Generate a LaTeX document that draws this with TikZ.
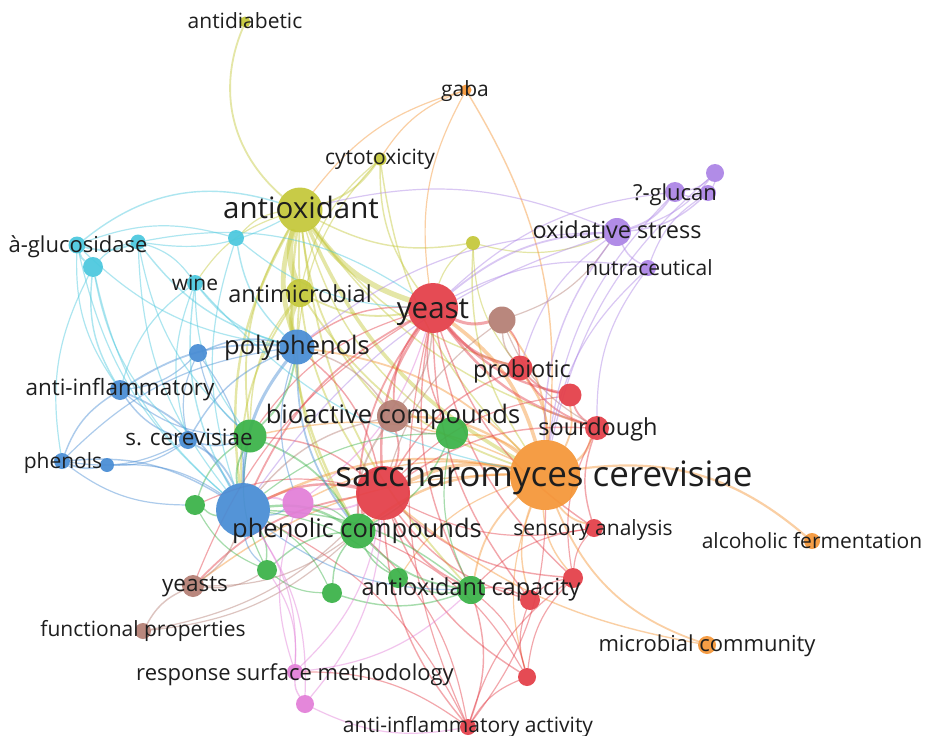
\documentclass[tikz,border=0pt]{standalone}
\usepackage{fontspec}
\setmainfont{Open Sans}

\pgfdeclarelayer{bg}
\pgfdeclarelayer{links}
\pgfdeclarelayer{labels}
\pgfsetlayers{bg,links,main,labels}

\definecolor{cOlive}{RGB}{196,200,58}
\definecolor{cRed}{RGB}{228,62,72}
\definecolor{cOrange}{RGB}{245,150,55}
\definecolor{cCyan}{RGB}{75,200,222}
\definecolor{cBlue}{RGB}{72,140,212}
\definecolor{cGreen}{RGB}{58,178,72}
\definecolor{cPurple}{RGB}{172,132,230}
\definecolor{cBrown}{RGB}{180,126,116}
\definecolor{cPink}{RGB}{226,126,216}
\definecolor{ink}{RGB}{30,30,30}

\tikzset{
  dot/.style={circle, inner sep=0pt, draw=none, fill opacity=0.93},
  link/.style={line cap=round, draw opacity=0.45},
  lbl/.style={text=ink, inner sep=0pt, anchor=base},
  lbS/.style={lbl, font=\fontsize{21}{21}\selectfont},
  lbM/.style={lbl, font=\fontsize{23.5}{24}\selectfont},
  lbN/.style={lbl, font=\fontsize{25.5}{26}\selectfont},
  lbL/.style={lbl, font=\fontsize{29.5}{30}\selectfont},
  lbX/.style={lbl, font=\fontsize{35}{35}\selectfont},
}

% keyword circle: name, x, y, colour, diameter
\newcommand\kw[5]{\node[dot, fill=#4, minimum size=#5pt] (#1) at (#2,#3) {};}

\begin{document}
\begin{tikzpicture}[x=1pt,y=-1pt]
\begin{pgfonlayer}{bg}
  \fill[white] (0,0) rectangle (930,736);
\end{pgfonlayer}
\useasboundingbox (0,0) rectangle (930,736);

% ---------- keywords ----------
% olive cluster
\kw{antidiabetic}{245}{22}{cOlive}{11}
\kw{cytotox}{380}{159}{cOlive}{13}
\kw{antiox}{300}{210}{cOlive}{45}
\kw{olivesmall}{473}{243}{cOlive}{14}
\kw{antimicro}{300}{293}{cOlive}{28}
% cyan cluster
\kw{cyanA}{77}{245}{cCyan}{17}
\kw{cyanB}{138}{242}{cCyan}{15}
\kw{cyanC}{93}{267}{cCyan}{20}
\kw{cyanD}{236}{238}{cCyan}{16}
\kw{wine}{195}{283}{cCyan}{16}
% blue cluster
\kw{polyph}{297}{347}{cBlue}{35}
\kw{blueS}{198}{353}{cBlue}{18}
\kw{antiinfl}{120}{390}{cBlue}{20}
\kw{scerev}{188}{440}{cBlue}{18}
\kw{phenolsA}{62}{461}{cBlue}{16}
\kw{phenolsB}{107}{465}{cBlue}{14}
\kw{phenolic}{243}{510}{cBlue}{54}
% red cluster
\kw{yeast}{433}{308}{cRed}{50}
\kw{probiotic}{520}{368}{cRed}{25}
\kw{redA}{570}{395}{cRed}{23}
\kw{sourdough}{597}{428}{cRed}{24}
\kw{sacchRed}{383}{493}{cRed}{54}
\kw{sensory}{594}{528}{cRed}{18}
\kw{redB}{573}{578}{cRed}{20}
\kw{redC}{530}{600}{cRed}{20}
\kw{redD}{527}{677}{cRed}{18}
\kw{antiinflAct}{468}{727}{cRed}{16}
% brown cluster
\kw{brownA}{502}{320}{cBrown}{27}
\kw{bioactive}{393}{416}{cBrown}{32}
\kw{yeasts}{193}{586}{cBrown}{22}
\kw{functional}{143}{631}{cBrown}{16}
% green cluster
\kw{greenA}{452}{433}{cGreen}{32}
\kw{greenS}{250}{436}{cGreen}{33}
\kw{greenB}{195}{505}{cGreen}{20}
\kw{greenPC}{358}{531}{cGreen}{35}
\kw{greenC}{267}{570}{cGreen}{20}
\kw{greenD}{332}{593}{cGreen}{20}
\kw{greenE}{398}{578}{cGreen}{20}
\kw{antioxCap}{471}{590}{cGreen}{28}
% pink cluster
\kw{pinkA}{298}{503}{cPink}{31}
\kw{rsm}{295}{672}{cPink}{16}
\kw{pinkB}{305}{704}{cPink}{18}
% orange cluster
\kw{sacch}{545}{475}{cOrange}{70}
\kw{gaba}{466}{90}{cOrange}{11}
\kw{alcoholic}{812}{541}{cOrange}{16}
\kw{microbial}{707}{645}{cOrange}{18}
% purple cluster
\kw{purpleA}{715}{173}{cPurple}{18}
\kw{glucanA}{675}{192}{cPurple}{20}
\kw{glucanB}{708}{193}{cPurple}{16}
\kw{oxstress}{617}{232}{cPurple}{28}
\kw{nutra}{648}{268}{cPurple}{16}

% ---------- co-occurrence links ----------
\begin{pgfonlayer}{links}
\foreach \a/\b/\c/\w in {
  antiox/antimicro/cOlive/5, antiox/polyph/cOlive/4, antimicro/polyph/cOlive/4,
  antiox/yeast/cOlive/4.5, antiox/sacch/cOlive/3, antiox/phenolic/cOlive/2,
  antiox/greenPC/cOlive/2, antiox/bioactive/cOlive/1.5, antiox/cytotox/cOlive/1.5,
  antiox/olivesmall/cOlive/1.2, antiox/greenS/cOlive/1.5, antiox/greenA/cOlive/1.2,
  antiox/probiotic/cOlive/1.2, antiox/sourdough/cOlive/1.2, antiox/antioxCap/cOlive/1.5,
  antiox/wine/cOlive/1, antiox/cyanD/cOlive/1, antiox/sacchRed/cOlive/1.5,
  antimicro/sacch/cOlive/1.5, antimicro/yeast/cOlive/1.5, antimicro/phenolic/cOlive/1.5,
  antimicro/greenPC/cOlive/1.5, antimicro/greenS/cOlive/1.2, cytotox/yeast/cOlive/1.2,
  cytotox/sacch/cOlive/1.2, cytotox/antimicro/cOlive/1, cytotox/polyph/cOlive/1,
  olivesmall/yeast/cOlive/1, olivesmall/sacch/cOlive/1.2, olivesmall/probiotic/cOlive/1,
  olivesmall/oxstress/cOlive/1,
  sacch/yeast/cOrange/3, sacch/sacchRed/cOrange/3, sacch/gaba/cOrange/1.2,
  sacch/probiotic/cOrange/2, sacch/sourdough/cOrange/2, sacch/sensory/cOrange/1.5,
  sacch/redB/cOrange/1.2, sacch/redC/cOrange/1.2, sacch/antioxCap/cOrange/1.5,
  sacch/greenPC/cOrange/2, sacch/bioactive/cOrange/2, sacch/phenolic/cOrange/2,
  sacch/polyph/cOrange/1.5, sacch/greenA/cOrange/1.5, sacch/brownA/cOrange/1.5,
  sacch/redA/cOrange/1.5, sacch/greenS/cOrange/1.2, sacch/yeasts/cOrange/1.2,
  sacch/greenE/cOrange/1, sacch/pinkA/cOrange/1.2, sacch/redD/cOrange/1,
  gaba/yeast/cOrange/1, gaba/antiox/cOrange/1, gaba/cytotox/cOrange/1,
  yeast/probiotic/cRed/2.5, yeast/redA/cRed/2, yeast/sourdough/cRed/2,
  yeast/brownA/cRed/2.5, yeast/sacchRed/cRed/2, yeast/sensory/cRed/1.2,
  yeast/redB/cRed/1.2, yeast/redC/cRed/1.2, yeast/polyph/cRed/1.2,
  yeast/phenolic/cRed/1.5, yeast/greenPC/cRed/1.5, yeast/bioactive/cRed/1.5,
  yeast/greenA/cRed/1.2, yeast/antiinflAct/cRed/1, yeast/yeasts/cRed/1,
  yeast/greenS/cRed/1, yeast/antioxCap/cRed/1.2, probiotic/redA/cRed/1.5,
  probiotic/sourdough/cRed/1.5, probiotic/sacchRed/cRed/1.2, probiotic/brownA/cRed/1.2,
  redA/sourdough/cRed/1.5, redA/sacchRed/cRed/1, sourdough/sensory/cRed/1.2,
  sourdough/sacchRed/cRed/1.2, sourdough/redB/cRed/1, sacchRed/phenolic/cRed/2,
  sacchRed/greenPC/cRed/2, sacchRed/bioactive/cRed/1.5, sacchRed/antioxCap/cRed/1.5,
  sacchRed/redB/cRed/1.2, sacchRed/redC/cRed/1.2, sacchRed/redD/cRed/1.2,
  sacchRed/antiinflAct/cRed/1.2, sacchRed/yeasts/cRed/1.5, sacchRed/greenS/cRed/1.2,
  sacchRed/greenB/cRed/1, sacchRed/polyph/cRed/1.2, sacchRed/sensory/cRed/1,
  sensory/redB/cRed/1, sensory/antioxCap/cRed/1, redB/redC/cRed/1,
  redB/redD/cRed/1, redB/antiinflAct/cRed/1, redC/antioxCap/cRed/1.2,
  redC/redD/cRed/1, redD/antioxCap/cRed/1, redD/antiinflAct/cRed/1,
  redD/greenPC/cRed/1, antiinflAct/antioxCap/cRed/1.2, antiinflAct/greenPC/cRed/1,
  antiinflAct/phenolic/cRed/1, antiinflAct/rsm/cRed/1, antiinflAct/sacch/cRed/1,
  brownA/probiotic/cBrown/1.2, brownA/oxstress/cBrown/1, brownA/sourdough/cBrown/1,
  brownA/sacchRed/cBrown/1, bioactive/greenPC/cBrown/1.5, bioactive/greenA/cBrown/1.2,
  bioactive/phenolic/cBrown/1.2, bioactive/yeast/cBrown/1.2, bioactive/polyph/cBrown/1.2,
  yeasts/functional/cBrown/1.2, yeasts/phenolic/cBrown/1.2, yeasts/greenC/cBrown/1,
  yeasts/greenPC/cBrown/1, functional/sacchRed/cBrown/1, functional/greenPC/cBrown/1,
  greenPC/antioxCap/cGreen/1.5, greenPC/greenD/cGreen/1.2, greenPC/greenE/cGreen/1.2,
  greenPC/greenC/cGreen/1.2, greenPC/phenolic/cGreen/2, greenPC/greenS/cGreen/1.5,
  greenPC/greenA/cGreen/1.2, greenPC/pinkA/cGreen/1, greenS/greenB/cGreen/1.2,
  greenS/phenolic/cGreen/1.5, greenS/polyph/cGreen/1.5, greenS/greenC/cGreen/1,
  greenB/phenolic/cGreen/1.2, greenB/greenC/cGreen/1, greenC/greenD/cGreen/1,
  greenC/phenolic/cGreen/1.2, greenD/antioxCap/cGreen/1.2, greenD/phenolic/cGreen/1,
  greenE/antioxCap/cGreen/1.2, greenE/phenolic/cGreen/1, greenA/antioxCap/cGreen/1,
  greenA/phenolic/cGreen/1, antioxCap/phenolic/cGreen/1.2,
  polyph/phenolic/cBlue/2.5, polyph/antiinfl/cBlue/1.5, polyph/blueS/cBlue/1.2,
  polyph/scerev/cBlue/1.2, polyph/phenolsA/cBlue/1, polyph/greenPC/cBlue/1.5,
  polyph/pinkA/cBlue/1, phenolic/antiinfl/cBlue/1.5, phenolic/scerev/cBlue/1.5,
  phenolic/phenolsA/cBlue/1.2, phenolic/phenolsB/cBlue/1, phenolic/blueS/cBlue/1,
  phenolic/pinkA/cBlue/1.2, phenolic/greenC/cBlue/1, phenolic/antioxCap/cBlue/1,
  antiinfl/scerev/cBlue/1.2, antiinfl/phenolsA/cBlue/1.2, antiinfl/blueS/cBlue/1,
  antiinfl/greenS/cBlue/1, phenolsA/phenolsB/cBlue/1.5, phenolsA/scerev/cBlue/1,
  phenolsB/scerev/cBlue/1, phenolsA/greenB/cBlue/1, blueS/scerev/cBlue/1,
  blueS/greenS/cBlue/1, scerev/greenS/cBlue/1.2,
  cyanA/cyanB/cCyan/1.5, cyanA/cyanC/cCyan/1.5, cyanB/cyanC/cCyan/1,
  cyanA/polyph/cCyan/1, cyanA/phenolic/cCyan/1, cyanA/antiinfl/cCyan/1,
  cyanB/polyph/cCyan/1.2, cyanB/phenolic/cCyan/1, cyanB/antiox/cCyan/1,
  cyanB/greenS/cCyan/1, cyanC/antiinfl/cCyan/1.2, cyanC/phenolsA/cCyan/1,
  cyanC/phenolic/cCyan/1, cyanC/scerev/cCyan/1, cyanD/polyph/cCyan/1.2,
  cyanD/phenolic/cCyan/1, cyanD/yeast/cCyan/1, cyanD/cyanA/cCyan/1,
  wine/polyph/cCyan/1.2, wine/phenolic/cCyan/1.2, wine/antiinfl/cCyan/1,
  wine/scerev/cCyan/1, wine/greenS/cCyan/1, wine/cyanB/cCyan/1, wine/sacch/cCyan/1,
  oxstress/glucanA/cPurple/1.5, oxstress/glucanB/cPurple/1.2, oxstress/purpleA/cPurple/1,
  oxstress/nutra/cPurple/1.2, oxstress/yeast/cPurple/1.5, oxstress/sacch/cPurple/1.2,
  oxstress/antiox/cPurple/1, oxstress/polyph/cPurple/1, oxstress/phenolic/cPurple/1,
  oxstress/probiotic/cPurple/1, glucanA/glucanB/cPurple/1.2, glucanA/purpleA/cPurple/1,
  glucanA/yeast/cPurple/1, glucanA/sacch/cPurple/1, glucanB/purpleA/cPurple/1,
  glucanB/nutra/cPurple/1, nutra/sacch/cPurple/1, nutra/yeast/cPurple/1,
  nutra/sourdough/cPurple/1, purpleA/sacch/cPurple/1,
  pinkA/sacchRed/cPink/1.5, pinkA/phenolic/cPink/1.5, pinkA/yeast/cPink/1,
  pinkA/rsm/cPink/1, rsm/pinkB/cPink/1.2, rsm/sacchRed/cPink/1,
  rsm/antioxCap/cPink/1, rsm/phenolic/cPink/1, rsm/greenC/cPink/1,
  pinkB/antiinflAct/cPink/1, pinkB/sacchRed/cPink/1, pinkB/phenolic/cPink/1}
  { \draw[link, draw=\c, line width=1.2*\w pt] (\a) to[bend right=18] (\b); }

% long sweeping links
\draw[link, draw=cOlive, line width=1.8pt] (antiox) to[bend left=36] (antidiabetic);
\draw[link, draw=cCyan, line width=1.4pt] (cyanA) to[bend left=28] (antiox);
\draw[link, draw=cCyan, line width=1.2pt] (cyanB) to[bend left=22] (yeast);
\draw[link, draw=cOrange, line width=2.2pt] (sacch) to[bend left=24] (alcoholic);
\draw[link, draw=cOrange, line width=1.8pt] (sacch) to[bend right=24] (microbial);
\draw[link, draw=cOrange, line width=1.4pt] (microbial) to[bend left=14] (sacchRed);
\end{pgfonlayer}

% ---------- labels ----------
\begin{pgfonlayer}{labels}
\node[lbS] (t-antidiabetic) at (245,28) {antidiabetic};
\node[lbS] (t-gaba) at (465,96) {gaba};
\node[lbS] (t-cytotox) at (380,164) {cytotoxicity};
\node[lbL] (t-antiox) at (301,218) {antioxidant};
\node[lbS, font=\fontsize{22}{22}\selectfont] (t-glucosidase) at (78,252) {à-glucosidase};
\node[lbS] (t-wine) at (195,290) {wine};
\node[lbM] (t-antimicro) at (300,302) {antimicrobial};
\node[lbN] (t-polyph) at (297,354) {polyphenols};
\node[lbL] (t-yeast) at (433,318) {yeast};
\node[lbS, font=\fontsize{22}{22}\selectfont] (t-glucan) at (675,200) {?-glucan};
\node[lbM] (t-oxstress) at (617,238) {oxidative stress};
\node[lbS] (t-nutra) at (649,275) {nutraceutical};
\node[lbM] (t-probiotic) at (522,377) {probiotic};
\node[lbS, font=\fontsize{22.5}{22}\selectfont] (t-antiinfl) at (120,395) {anti-inflammatory};
\node[lbN] (t-bioactive) at (393,423) {bioactive compounds};
\node[lbM] (t-sourdough) at (598,435) {sourdough};
\node[lbS, font=\fontsize{22.5}{22}\selectfont] (t-scerev) at (189,445) {s. cerevisiae};
\node[lbS] (t-phenols) at (63,468) {phenols};
\node[lbX] (t-sacch) at (544,486) {saccharomyces cerevisiae};
\node[lbN] (t-phenolic) at (357,537) {phenolic compounds};
\node[lbS] (t-sensory) at (593,535) {sensory analysis};
\node[lbS] (t-alcoholic) at (812,548) {alcoholic fermentation};
\node[lbS, font=\fontsize{22.5}{22}\selectfont] (t-yeasts) at (195,591) {yeasts};
\node[lbM] (t-antioxCap) at (471,595) {antioxidant capacity};
\node[lbS] (t-functional) at (143,636) {functional properties};
\node[lbS, font=\fontsize{22}{22}\selectfont] (t-microbial) at (707,651) {microbial community};
\node[lbS, font=\fontsize{22}{22}\selectfont] (t-rsm) at (295,680) {response surface methodology};
\node[lbS] (t-antiinflAct) at (468,732) {anti-inflammatory activity};
\end{pgfonlayer}
\end{tikzpicture}
\end{document}
